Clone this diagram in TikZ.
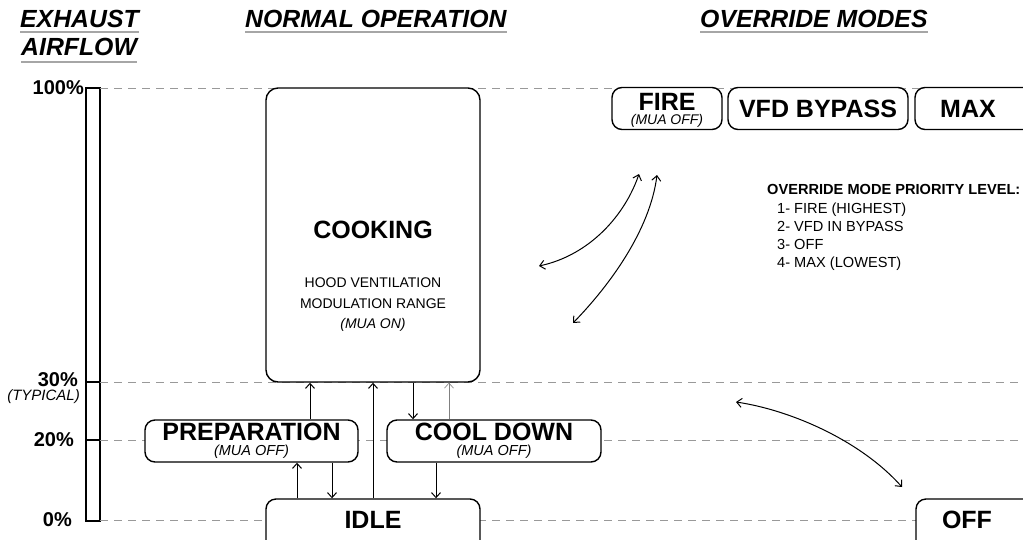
\documentclass[tikz,border=0pt]{standalone}
\usepackage{fontspec}
\setmainfont{Liberation Sans}
\usetikzlibrary{arrows.meta}

\tikzset{
  statebox/.style={draw, line width=1.4pt, rounded corners=10pt, fill=white, inner sep=0pt},
  boxtitle/.style={font=\fontsize{25}{28}\selectfont\bfseries, inner sep=0pt},
  boxnote/.style={font=\fontsize{14.5}{17}\selectfont\itshape, inner sep=0pt},
  boxtext/.style={font=\fontsize{14}{17}\selectfont, inner sep=0pt},
  header/.style={font=\fontsize{24.8}{28}\selectfont\bfseries\itshape, inner sep=0pt, anchor=west},
  uline/.style={draw=gray!70, line width=2pt},
  guide/.style={draw=gray!80, line width=1pt, dash pattern=on 8pt off 6pt},
  flow/.style={line width=1pt, -{Straight Barb[length=5pt,width=9pt]}},
  twoway/.style={line width=1pt, {Straight Barb[length=5pt,width=9pt]}-{Straight Barb[length=5pt,width=9pt]}},
  pct/.style={font=\fontsize{20}{24}\selectfont\bfseries, inner sep=0pt, anchor=east},
  prioline/.style={font=\fontsize{14.6}{17}\selectfont, inner sep=0pt, anchor=base west},
}

\begin{document}
\begin{tikzpicture}[x=1pt,y=-1pt]
\useasboundingbox (0,0) rectangle (1023,539);

% headings
\node[header] (hexhaust) at (20,18.5) {EXHAUST};
\node[header] (hairflow) at (21,47) {AIRFLOW};
\node[header] (hnormal) at (245,18.5) {NORMAL OPERATION};
\node[header] (hoverride) at (700,18.5) {OVERRIDE MODES};
\draw[uline] ([yshift=-5pt]hexhaust.south west) -- ([yshift=-5pt]hexhaust.south east);
\draw[uline] ([yshift=-6pt]hairflow.south west) -- ([yshift=-6pt]hairflow.south east);
\draw[uline] ([yshift=-5pt]hnormal.south west) -- ([yshift=-5pt]hnormal.south east);
\draw[uline] ([yshift=-5pt]hoverride.south west) -- ([yshift=-5pt]hoverride.south east);

% airflow scale
\node[pct] (p100) at (84,88) {100\%};
\node[pct] (p30) at (78,380) {30\%};
\node[pct, font=\fontsize{15}{17}\selectfont\itshape] (ptyp) at (80,397) {(TYPICAL)};
\node[pct] (p20) at (74,440) {20\%};
\node[pct] (p0) at (72,520) {0\%};
\draw[line width=1.5pt] (86,88) rectangle (100,521);
\draw[line width=1.5pt] (86,382) -- (100,382);
\draw[line width=1.5pt] (86,440) -- (100,440);

% level lines
\draw[guide] (100,88) -- (1023,88);
\draw[guide] (100,382) -- (1023,382);
\draw[guide] (100,440) -- (1023,440);
\draw[guide] (100,520) -- (1023,520);

% normal operation states
\node[statebox, minimum width=214pt, minimum height=294pt, rounded corners=12pt] (cooking) at (373,235) {};
\node[boxtitle] (cooktitle) at (373,230) {COOKING};
\node[boxtext] (cookline1) at (373,283) {HOOD VENTILATION};
\node[boxtext] (cookline2) at (373,304) {MODULATION RANGE};
\node[boxtext, font=\fontsize{14}{17}\selectfont\itshape] (cookline3) at (373,325) {(MUA ON)};

\node[statebox, minimum width=213pt, minimum height=42pt] (prep) at (251.5,441) {};
\node[boxtitle] (preptitle) at ([yshift=9pt]prep.center) {PREPARATION};
\node[boxnote] (prepnote) at ([yshift=-11pt]prep.center) {(MUA OFF)};

\node[statebox, minimum width=214pt, minimum height=42pt] (cool) at (494,441) {};
\node[boxtitle] (cooltitle) at ([yshift=9pt]cool.center) {COOL DOWN};
\node[boxnote] (coolnote) at ([yshift=-11pt]cool.center) {(MUA OFF)};

\node[statebox, minimum width=214pt, minimum height=60pt] (idle) at (373,529) {};
\node[boxtitle] (idletitle) at ([yshift=9pt]idle.center) {IDLE};

% override states
\node[statebox, minimum width=110pt, minimum height=42pt] (fire) at (667,108.5) {};
\node[boxtitle] (firetitle) at ([yshift=7pt]fire.center) {FIRE};
\node[boxnote, font=\fontsize{14}{17}\selectfont\itshape] (firenote) at ([yshift=-12pt]fire.center) {(MUA OFF)};
\node[statebox, minimum width=180pt, minimum height=42pt] (vfd) at (818,108.5) {};
\node[boxtitle] (vfdtitle) at (vfd.center) {VFD BYPASS};
\node[statebox, minimum width=120pt, minimum height=42pt] (max) at (975,108.5) {};
\node[boxtitle] (maxtitle) at ([xshift=-7pt]max.center) {MAX};
\node[statebox, minimum width=120pt, minimum height=60pt] (off) at (976,529) {};
\node[boxtitle] (offtitle) at ([xshift=-9pt,yshift=9pt]off.center) {OFF};

% priority list
\node[prioline, font=\fontsize{14.6}{17}\selectfont\bfseries] (priohead) at (767,194.5) {OVERRIDE MODE PRIORITY LEVEL:};
\node[prioline] (prio1) at (777,213.5) {1- FIRE (HIGHEST)};
\node[prioline] (prio2) at (777,231.5) {2- VFD IN BYPASS};
\node[prioline] (prio3) at (777,249.5) {3- OFF};
\node[prioline] (prio4) at (777,267.5) {4- MAX (LOWEST)};

% transitions
\coordinate (c1) at (297,0);
\coordinate (c2) at (310,0);
\coordinate (c3) at (332,0);
\coordinate (c4) at (373,0);
\coordinate (c5) at (413,0);
\coordinate (c6) at (436,0);
\coordinate (c7) at (449,0);
\draw[flow] (idle.north -| c1) -- (prep.south -| c1);
\draw[flow] (prep.south -| c3) -- (idle.north -| c3);
\draw[flow] (prep.north -| c2) -- (cooking.south -| c2);
\draw[flow] (idle.north -| c4) -- (cooking.south -| c4);
\draw[flow] (cooking.south -| c5) -- (cool.north -| c5);
\draw[flow, line width=0.6pt, draw=gray] (cool.north -| c7) -- (cooking.south -| c7);
\draw[flow] (cool.south -| c6) -- (idle.north -| c6);

% override switching
\coordinate (swa1) at (539,266);
\coordinate (swa2) at (639,174);
\coordinate (swb1) at (573,323);
\coordinate (swb2) at (657,175);
\coordinate (swc1) at (736,402);
\coordinate (swc2) at (902,487);
\draw[twoway] (swa1) .. controls (590,255) and (625,215) .. (swa2);
\draw[twoway] (swb1) .. controls (610,285) and (650,230) .. (swb2);
\draw[twoway] (swc1) .. controls (790,410) and (860,440) .. (swc2);
\end{tikzpicture}
\end{document}
